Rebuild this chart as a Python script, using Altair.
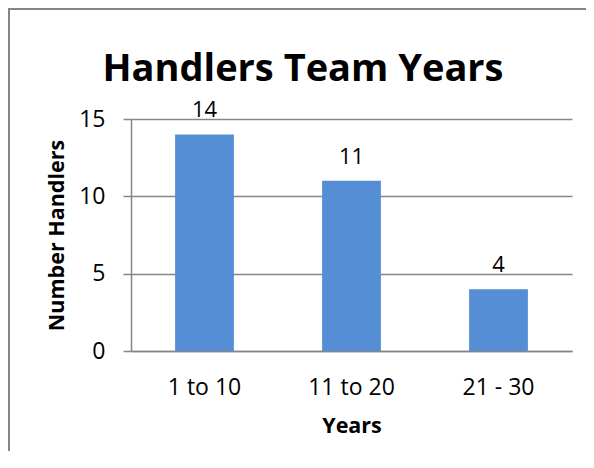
import altair as alt
import pandas as pd

categories = ["1 to 10", "11 to 20", "21 - 30"]
values = [14, 11, 4]
chart_title = "Handlers Team Years"

df = pd.DataFrame({"Years": categories, "Handlers": values})
title_df = pd.DataFrame({"t": [chart_title]})

W, H = 441, 232
PL, PT = 123, 111
FONT = "Open Sans"

x = alt.X("Years:N", sort=categories, title="Years",
          scale=alt.Scale(paddingInner=0.6, paddingOuter=0.3),
          axis=alt.Axis(labelAngle=0, labelFont=FONT, labelFontSize=23,
                        labelColor="#000000", labelPadding=25,
                        titleFont=FONT, titleFontSize=21.5, titleFontWeight="bold",
                        titleColor="#000000", titlePadding=16,
                        ticks=False, domainColor="#868686", domainWidth=1.5))
y = alt.Y("Handlers:Q", title="Number Handlers",
          scale=alt.Scale(domain=[0, 15], nice=False),
          axis=alt.Axis(values=[0, 5, 10, 15], labelFont=FONT, labelFontSize=23,
                        labelColor="#000000", labelPadding=18,
                        titleFont=FONT, titleFontSize=21.5, titleFontWeight="bold",
                        titleColor="#000000", titlePadding=10,
                        tickSize=8, tickColor="#868686", tickWidth=1.5,
                        domainColor="#868686", domainWidth=1.5,
                        gridColor="#868686", gridWidth=1.5))

bars = alt.Chart(df).mark_bar(color="#558ED5").encode(x=x, y=y)
text = alt.Chart(df).mark_text(dy=-17, font=FONT, fontSize=22, color="#000000",
                               baseline="alphabetic").encode(
    x=alt.X("Years:N", sort=categories), y="Handlers:Q", text="Handlers:Q")

title = alt.Chart(title_df).mark_text(font=FONT, fontSize=38, fontWeight="bold",
                                      color="#000000", baseline="alphabetic",
                                      align="center").encode(
    x=alt.value(172), y=alt.value(-38), text="t:N")

border = alt.Chart(df).mark_rect(fill=None, stroke="#868686", strokeWidth=2).encode(
    x=alt.value(-PL + 1), x2=alt.value(W + 100),
    y=alt.value(-PT + 1), y2=alt.value(H + 200))

chart = alt.layer(border, bars, text, title).properties(
    width=W, height=H,
    autosize=alt.AutoSizeParams(type="none"),
    padding={"left": PL, "top": PT, "right": 14, "bottom": 100},
).configure_view(stroke=None).configure_axis(grid=False).configure_axisY(grid=True)

chart.save("out.html", embed_options={"renderer": "svg", "actions": False})
